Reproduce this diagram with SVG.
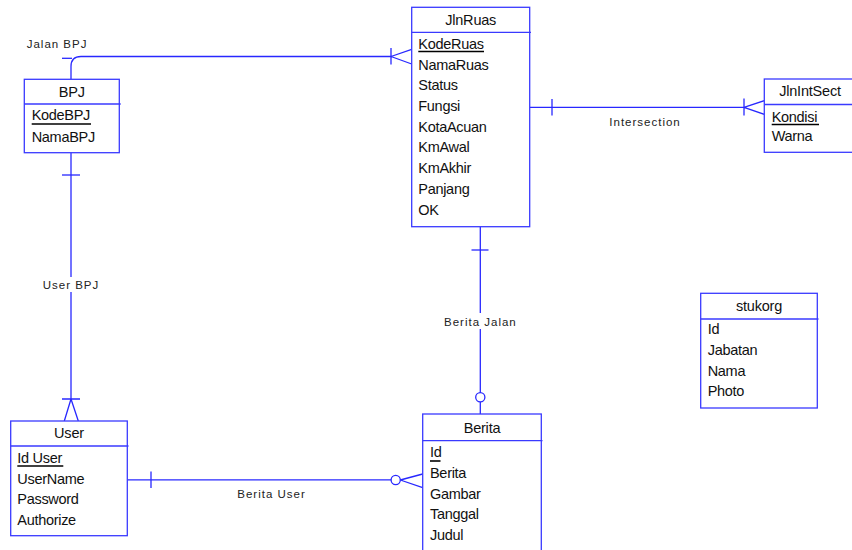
<svg xmlns="http://www.w3.org/2000/svg" width="852" height="550" viewBox="0 0 852 550">
  <style>
    .box { fill: #ffffff; stroke: #3a3aff; stroke-width: 1.3; }
    .sep { stroke: #3a3aff; stroke-width: 1.3; }
    .ln { fill: none; stroke: #2828ff; stroke-width: 1.3; }
    .ring { fill: #ffffff; stroke: #2828ff; stroke-width: 1.3; }
    .hd { font-family: "Liberation Sans", Arial, sans-serif; font-size: 14.5px; fill: #111111; text-anchor: middle; letter-spacing: -0.2px; }
    .at { font-family: "Liberation Sans", Arial, sans-serif; font-size: 14.5px; fill: #111111; letter-spacing: -0.3px; }
    .key { stroke: #000000; stroke-width: 1.6; }
    .lbl { font-family: "Liberation Sans", Arial, sans-serif; font-size: 11.5px; letter-spacing: 1px; fill: #222222; }
    .gap { fill: #ffffff; }
  </style>

  <!-- relationships -->
  <g id="connectors">
    <!-- Jalan BPJ: BPJ (one) to JlnRuas (many) -->
    <g id="rel-jalan-bpj">
      <path class="ln" d="M71,79 V66.5 Q71,56.5 81,56.5 H391"/>
      <path class="ln" d="M62,58.3 H72"/>
      <path class="ln" d="M391,48 V64.5 M391,56.5 L411.7,49.3 M391,56.5 L411.7,64"/>
      <text class="lbl" x="26.7" y="48.3">Jalan BPJ</text>
    </g>
    <!-- User BPJ: BPJ (one) to User (many) -->
    <g id="rel-user-bpj">
      <path class="ln" d="M71,152.7 V399"/>
      <path class="ln" d="M62,175 H80"/>
      <path class="ln" d="M62,399 H80 M71,399 L64.3,421 M71,399 L78.3,421"/>
      <rect class="gap" x="42" y="277" width="58" height="15"/>
      <text class="lbl" x="42.7" y="289.3">User BPJ</text>
    </g>
    <!-- Berita Jalan: JlnRuas (one) to Berita (zero or one) -->
    <g id="rel-berita-jalan">
      <path class="ln" d="M480.3,226.7 V414"/>
      <path class="ln" d="M471.5,250 H488.5"/>
      <circle class="ring" cx="480.3" cy="397.3" r="4.6"/>
      <rect class="gap" x="443" y="313" width="74" height="16"/>
      <text class="lbl" x="444" y="326">Berita Jalan</text>
    </g>
    <!-- Intersection: JlnRuas (one) to JlnIntSect (many) -->
    <g id="rel-intersection">
      <path class="ln" d="M529.7,107.3 H744"/>
      <path class="ln" d="M552,99 V115.5"/>
      <path class="ln" d="M744,98.5 V115.5 M744,107.3 L764.3,100.7 M744,107.3 L764.3,114.3"/>
      <text class="lbl" x="609.3" y="126">Intersection</text>
    </g>
    <!-- Berita User: User (one) to Berita (zero or many) -->
    <g id="rel-berita-user">
      <path class="ln" d="M127.3,479.8 H391"/>
      <path class="ln" d="M151,471.5 V488"/>
      <circle class="ring" cx="395.7" cy="480" r="4.6"/>
      <path class="ln" d="M400.3,480 L422.7,474 M400.3,480 L422.7,487.7"/>
      <text class="lbl" x="237.3" y="497.7">Berita User</text>
    </g>
  </g>

  <!-- entities -->
  <g id="JlnRuas">
    <rect class="box" x="411.7" y="7.3" width="118" height="219.4"/>
    <line class="sep" x1="411.7" y1="32.3" x2="531" y2="32.3"/>
    <text class="hd" x="470.7" y="25">JlnRuas</text>
    <text class="at" x="418.3" y="48.5">KodeRuas</text>
    <line class="key" x1="418.3" y1="51.5" x2="484" y2="51.5"/>
    <text class="at" x="418.3" y="69.5">NamaRuas</text>
    <text class="at" x="418.3" y="90.3">Status</text>
    <text class="at" x="418.3" y="111">Fungsi</text>
    <text class="at" x="418.3" y="131.7">KotaAcuan</text>
    <text class="at" x="418.3" y="152.4">KmAwal</text>
    <text class="at" x="418.3" y="173.1">KmAkhir</text>
    <text class="at" x="418.3" y="193.8">Panjang</text>
    <text class="at" x="418.3" y="214.5">OK</text>
  </g>

  <g id="BPJ">
    <rect class="box" x="24.3" y="79.3" width="95" height="73.4"/>
    <line class="sep" x1="24.3" y1="104" x2="120.7" y2="104"/>
    <text class="hd" x="71.8" y="96.7">BPJ</text>
    <text class="at" x="31.7" y="120">KodeBPJ</text>
    <line class="key" x1="31.7" y1="124" x2="91" y2="124"/>
    <text class="at" x="31.7" y="141.5">NamaBPJ</text>
  </g>

  <g id="JlnIntSect">
    <rect class="box" x="764.3" y="79" width="90" height="73.3"/>
    <line class="sep" x1="764.3" y1="104.5" x2="852" y2="104.5"/>
    <text class="hd" x="810" y="95.7">JlnIntSect</text>
    <text class="at" x="771.7" y="121.5">Kondisi</text>
    <line class="key" x1="771.7" y1="124.5" x2="819" y2="124.5"/>
    <text class="at" x="771.7" y="141">Warna</text>
  </g>

  <g id="User">
    <rect class="box" x="10.7" y="421" width="116.6" height="114.7"/>
    <line class="sep" x1="10.7" y1="446" x2="128.5" y2="446"/>
    <text class="hd" x="69" y="438.3">User</text>
    <text class="at" x="17.3" y="462.5">Id User</text>
    <line class="key" x1="17.3" y1="466" x2="63.3" y2="466"/>
    <text class="at" x="17.3" y="483.5">UserName</text>
    <text class="at" x="17.3" y="504">Password</text>
    <text class="at" x="17.3" y="524.8">Authorize</text>
  </g>

  <g id="Berita">
    <rect class="box" x="422.7" y="414" width="118.6" height="140"/>
    <line class="sep" x1="422.7" y1="440.7" x2="542.5" y2="440.7"/>
    <text class="hd" x="482" y="432.7">Berita</text>
    <text class="at" x="430" y="457.3">Id</text>
    <line class="key" x1="430" y1="461" x2="440.5" y2="461"/>
    <text class="at" x="430" y="478">Berita</text>
    <text class="at" x="430" y="498.7">Gambar</text>
    <text class="at" x="430" y="519.3">Tanggal</text>
    <text class="at" x="430" y="540">Judul</text>
  </g>

  <g id="stukorg">
    <rect class="box" x="700.7" y="293.3" width="116.6" height="114.7"/>
    <line class="sep" x1="700.7" y1="319" x2="818.5" y2="319"/>
    <text class="hd" x="759" y="311">stukorg</text>
    <text class="at" x="707.7" y="334.3">Id</text>
    <text class="at" x="707.7" y="355">Jabatan</text>
    <text class="at" x="707.7" y="375.7">Nama</text>
    <text class="at" x="707.7" y="396.4">Photo</text>
  </g>
</svg>
